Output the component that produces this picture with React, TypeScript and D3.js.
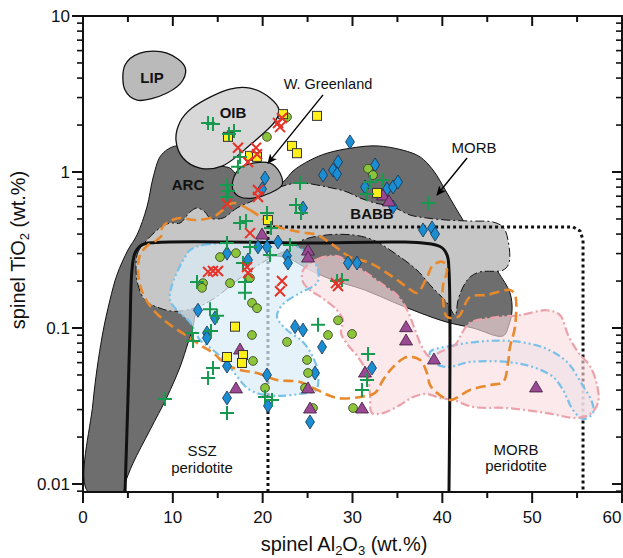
import React from 'react';
import * as d3 from 'd3';

type P = [number, number];

const W = 623;
const H = 558;
const X0 = 83, X1 = 622, Y0 = 16, Y1 = 492;

const xDomain: [number, number] = [0, 60];
const yDomain: [number, number] = [0.00889, 10];
const xMajorTicks = [0, 10, 20, 30, 40, 50, 60];
const xMinorTicks = [5, 15, 25, 35, 45, 55];
const yMajorTicks = [0.01, 0.1, 1, 10];
const yTickLabels = ['0.01', '0.1', '1', '10'];

// ---- fields (Al2O3 wt.%, TiO2 wt.%) ----
const arcMorbField: P[] = [
  [0.56, 0.0089], [1.11, 0.0331], [2.12, 0.0876], [3.0, 0.151], [3.78, 0.219], [5.0, 0.316],
  [6.01, 0.395], [7.12, 0.597], [7.79, 0.915], [8.57, 1.25], [9.46, 1.40], [10.46, 1.47],
  [11.91, 1.38], [14.69, 1.11], [16.36, 1.06], [17.14, 0.956], [19.7, 0.767], [22.26, 0.863],
  [23.38, 1.015], [25.27, 1.19], [27.16, 1.32], [30.06, 1.43], [32.73, 1.47], [35.62, 1.38],
  [37.52, 1.25], [38.96, 1.03], [40.52, 0.734], [42.3, 0.492], [44.19, 0.341], [46.2, 0.229],
  [47.53, 0.168], [47.76, 0.13], [47.42, 0.105], [46.76, 0.0889], [43.42, 0.1], [40.52, 0.109],
  [37.52, 0.125], [34.73, 0.145], [31.39, 0.175], [27.83, 0.203], [25.27, 0.235], [22.71, 0.281],
  [20.82, 0.289], [18.59, 0.265], [15.81, 0.203], [13.58, 0.151], [12.58, 0.125], [12.25, 0.102],
  [11.69, 0.0802], [10.8, 0.0562], [9.35, 0.0361], [7.46, 0.0222], [5.57, 0.0136], [4.68, 0.0101],
  [4.45, 0.0089],
];

const babbField: P[] = [
  [5.9, 0.242], [6.12, 0.307], [7.12, 0.367], [8.57, 0.438], [9.68, 0.471], [10.8, 0.471],
  [11.91, 0.554], [12.69, 0.588], [13.58, 0.554], [14.14, 0.507], [15.58, 0.507], [17.14, 0.588],
  [18.59, 0.642], [19.7, 0.692], [21.93, 0.802], [24.16, 0.85], [27.16, 0.802], [29.39, 0.745],
  [30.84, 0.681], [32.51, 0.633], [34.51, 0.597], [36.4, 0.53], [38.29, 0.507], [40.52, 0.492],
  [43.08, 0.485], [45.64, 0.478], [46.76, 0.444], [47.31, 0.367], [47.42, 0.261], [46.76, 0.235],
  [44.19, 0.229], [43.08, 0.212], [42.3, 0.183], [41.75, 0.151], [41.41, 0.121], [40.52, 0.145],
  [38.63, 0.189], [37.18, 0.235], [34.51, 0.307], [32.28, 0.367], [30.06, 0.395], [27.16, 0.395],
  [24.49, 0.367], [22.71, 0.316], [20.82, 0.281], [17.48, 0.209], [14.69, 0.156], [12.69, 0.136],
  [10.24, 0.128], [8.57, 0.134], [6.9, 0.151], [6.12, 0.189],
];

const lipField: P[] = [
  [4.68, 4.85], [6.35, 5.79], [9.35, 5.79], [11.35, 4.71], [11.13, 3.89], [9.35, 3.21], [6.01, 2.89], [4.68, 3.35],
];

const oibField: P[] = [
  [10.35, 1.6], [10.8, 2.09], [12.13, 2.57], [16.36, 3.4], [18.59, 3.45], [20.82, 2.98], [21.82, 2.5],
  [21.48, 2.15], [18.59, 1.49], [15.47, 1.09], [13.02, 1.06], [11.13, 1.23],
];

const greenlandField: P[] = [
  [16.7, 0.888], [17.48, 1.06], [18.92, 1.14], [20.82, 1.14], [21.93, 0.985], [22.15, 0.826],
  [20.82, 0.734], [18.92, 0.681], [17.48, 0.692], [16.7, 0.767],
];

const blueFieldA: P[] = [
  [11.91, 0.316], [13.36, 0.341], [16.03, 0.351], [18.92, 0.356], [21.37, 0.361], [23.38, 0.341],
  [25.27, 0.29], [26.16, 0.235], [26.05, 0.194], [24.16, 0.168], [22.15, 0.14], [21.6, 0.118],
  [22.71, 0.0971], [24.38, 0.0826], [25.49, 0.0671], [26.16, 0.0515], [25.94, 0.0401], [24.16, 0.0378],
  [21.6, 0.0367], [19.7, 0.0378], [18.26, 0.0413], [17.03, 0.05], [15.92, 0.0606], [14.47, 0.0723],
  [13.02, 0.0838], [11.91, 0.109], [10.46, 0.13], [9.68, 0.151], [9.91, 0.189], [10.58, 0.235], [11.35, 0.285],
];

const blueFieldB: P[] = [
  [38.63, 0.0702], [40.86, 0.0767], [44.97, 0.0826], [48.65, 0.0814], [51.65, 0.0733], [53.88, 0.0606],
  [55.66, 0.0425], [56.66, 0.0336], [56.77, 0.0285], [55.66, 0.0261], [54.55, 0.0298], [53.43, 0.0401],
  [52.32, 0.0486], [50.09, 0.0562], [47.2, 0.0606], [43.08, 0.0606], [40.52, 0.0562], [38.96, 0.0606],
];

const pinkField: P[] = [
  [24.49, 0.235], [26.16, 0.277], [28.05, 0.29], [29.72, 0.265], [31.39, 0.229], [33.4, 0.189],
  [35.07, 0.16], [36.18, 0.127], [36.96, 0.0971], [37.74, 0.0755], [38.63, 0.0652], [39.74, 0.0702],
  [41.41, 0.0778], [42.19, 0.093], [43.08, 0.108], [46.42, 0.118], [48.65, 0.121], [51.65, 0.13],
  [53.1, 0.121], [53.99, 0.0902], [55.1, 0.0702], [56.44, 0.057], [57.22, 0.0431], [57.33, 0.0331],
  [56.44, 0.0281], [54.99, 0.0265], [51.65, 0.0285], [47.2, 0.0307], [43.42, 0.0312], [41.19, 0.0346],
  [39.74, 0.0356], [38.29, 0.0378], [36.74, 0.0361], [35.29, 0.0321], [33.4, 0.0285], [32.17, 0.0285],
  [31.95, 0.0372], [31.62, 0.0515], [30.61, 0.0652], [29.5, 0.0778], [28.72, 0.093], [28.94, 0.112],
  [28.28, 0.13], [26.61, 0.156], [25.27, 0.175], [24.49, 0.197],
];

const orangeField: P[] = [
  [16.7, 0.633], [18.59, 0.571], [21.15, 0.457], [24.16, 0.412], [26.05, 0.395], [27.83, 0.341],
  [29.72, 0.285], [31.95, 0.261], [34.51, 0.212], [36.07, 0.183], [37.18, 0.168], [38.29, 0.212],
  [38.96, 0.253], [40.08, 0.265], [40.52, 0.235], [40.08, 0.189], [40.08, 0.151], [40.52, 0.118],
  [41.75, 0.118], [43.08, 0.158], [44.97, 0.163], [47.53, 0.175], [48.09, 0.163], [48.09, 0.102],
  [47.53, 0.0755], [47.31, 0.0597], [46.76, 0.0451], [45.31, 0.0431], [43.08, 0.0401], [40.86, 0.0346],
  [39.41, 0.0384], [38.63, 0.0431], [38.29, 0.0515], [37.52, 0.0624], [36.07, 0.0652], [34.51, 0.0562],
  [33.4, 0.0464], [32.51, 0.0384], [30.84, 0.0361], [28.28, 0.0356], [26.05, 0.0401], [24.16, 0.0451],
  [21.6, 0.0464], [19.37, 0.0515], [17.48, 0.0538], [16.03, 0.0579], [14.47, 0.0692], [13.02, 0.0778],
  [11.91, 0.0864], [9.68, 0.105], [8.02, 0.127], [6.9, 0.156], [6.35, 0.189], [6.12, 0.242],
  [6.35, 0.294], [7.12, 0.336], [8.24, 0.367], [8.79, 0.395], [8.79, 0.438], [9.46, 0.478],
  [10.8, 0.507], [12.47, 0.492], [14.47, 0.515], [15.58, 0.571],
];

const sszBoundary: P[] = [
  [4.68, 0.0089], [5.0, 0.0346], [5.23, 0.0971], [5.45, 0.235], [5.79, 0.302], [6.57, 0.341],
  [8.02, 0.353], [24.16, 0.351], [39.74, 0.333], [40.52, 0.294], [40.74, 0.235], [40.74, 0.0089],
];

const morbPeridotiteBoundary: P[] = [
  [20.59, 0.0089], [20.59, 0.444], [54.55, 0.444], [55.33, 0.419], [55.66, 0.367], [55.66, 0.0089],
];

// ---- data points (Al2O3, TiO2) ----
const greenCross: P[] = [
  [13.92, 2.06], [14.47, 2.03], [16.25, 1.75], [16.81, 1.83], [17.48, 1.25], [17.25, 1.08],
  [16.03, 0.826], [16.14, 0.756], [16.03, 0.692], [24.16, 0.85], [23.71, 0.614], [24.27, 0.546],
  [20.48, 0.546], [17.48, 0.471], [18.15, 0.485], [20.93, 0.438], [23.04, 0.341], [20.82, 0.294],
  [18.59, 0.331], [33.4, 0.888], [31.95, 0.863], [31.62, 0.723], [38.41, 0.633], [16.03, 0.351],
  [17.81, 0.261], [18.03, 0.197], [18.03, 0.168], [12.69, 0.197], [14.14, 0.132], [14.92, 0.12],
  [12.13, 0.093], [12.25, 0.0826], [14.25, 0.0957], [14.47, 0.0554], [13.92, 0.0478], [9.13, 0.0351],
  [16.03, 0.0285], [20.26, 0.0361], [21.04, 0.0346], [26.16, 0.105], [31.73, 0.0681], [31.62, 0.0464],
  [31.06, 0.0401], [28.28, 0.2], [28.83, 0.203],
];

const redX: P[] = [
  [17.25, 1.43], [19.26, 1.43], [19.37, 1.3], [18.37, 1.16], [21.71, 2.06], [22.15, 2.22], [21.93, 1.94],
  [19.48, 0.767], [19.48, 0.692], [16.03, 0.624], [18.59, 0.406], [13.92, 0.229], [14.47, 0.232],
  [15.03, 0.232], [18.26, 0.246], [18.37, 0.225], [22.15, 0.2], [21.93, 0.172], [28.16, 0.194], [28.39, 0.186],
];

const yellowSquare: P[] = [
  [16.14, 1.68], [18.59, 1.27], [19.37, 1.25], [22.26, 2.35], [23.27, 1.47], [23.82, 1.32], [26.05, 2.29],
  [20.59, 0.492], [32.73, 0.734], [16.92, 0.102], [16.03, 0.0652], [17.81, 0.0671], [17.7, 0.0597],
];

const greenCircle: P[] = [
  [22.71, 2.25], [20.48, 1.68], [15.25, 0.285], [17.03, 0.302], [16.36, 0.194], [13.36, 0.194],
  [13.25, 0.181], [18.59, 0.209], [18.81, 0.145], [19.37, 0.134], [18.81, 0.0902], [18.92, 0.0615],
  [22.71, 0.0814], [24.94, 0.0624], [25.05, 0.0515], [20.26, 0.0413], [24.71, 0.0413], [25.6, 0.0307],
  [28.39, 0.112], [27.27, 0.0902], [29.95, 0.0916], [30.06, 0.0307], [31.73, 1.05], [32.28, 0.956],
];

const blueDiamond: P[] = [
  [20.26, 0.915], [19.93, 0.778], [24.49, 0.588], [16.03, 0.302], [18.37, 0.273], [19.48, 0.331],
  [20.48, 0.331], [21.71, 0.356], [22.71, 0.29], [22.82, 0.261], [12.8, 0.13], [14.69, 0.116],
  [13.8, 0.093], [13.8, 0.0864], [16.03, 0.057], [16.03, 0.0356], [20.48, 0.05], [20.59, 0.0317],
  [23.6, 0.102], [24.49, 0.0971], [26.61, 0.0755], [25.83, 0.0515], [25.27, 0.025], [32.17, 0.0554],
  [29.72, 1.56], [28.39, 1.16], [27.83, 1.03], [28.28, 0.971], [26.72, 0.956], [32.51, 1.11],
  [31.39, 0.802], [33.84, 0.778], [34.51, 0.802], [35.07, 0.863], [34.51, 0.597], [37.85, 0.425],
  [38.85, 0.438], [39.19, 0.4], [29.5, 0.261], [30.5, 0.261],
];

const purpleTriangle: P[] = [
  [19.93, 0.4], [25.05, 0.316], [25.05, 0.285], [33.4, 0.712], [34.06, 0.652], [17.48, 0.0733],
  [17.03, 0.0413], [25.05, 0.0413], [25.27, 0.0307], [31.39, 0.0522], [31.06, 0.0307], [35.96, 0.102],
  [35.96, 0.0838], [39.07, 0.0633], [50.43, 0.0419],
];

// ---- annotations ----
const fieldLabels: { text: string; at: P }[] = [
  { text: 'LIP', at: [7.68, 4.06] },
  { text: 'OIB', at: [16.7, 2.39] },
  { text: 'ARC', at: [11.69, 0.826] },
  { text: 'BABB', at: [32.17, 0.546] },
];
const greenlandLabel: P = [27.27, 3.67];
const greenlandArrow: P[] = [[26.72, 3.12], [20.59, 1.14]];
const morbLabel: P = [43.53, 1.43];
const morbArrow: P[] = [[42.75, 1.23], [39.41, 0.712]];
const sszLabel: P[] = [[13.25, 0.0163], [13.25, 0.0128]];
const morbPerLabel: P[] = [[48.2, 0.0167], [48.2, 0.0131]];

const FONT = "'Liberation Sans', Arial, Helvetica, sans-serif";

export default function App() {
  const x = d3.scaleLinear().domain(xDomain).range([X0, X1]);
  const y = d3.scaleLog().domain(yDomain).range([Y1, Y0]);

  const closed = d3.line<P>().x(d => x(d[0])).y(d => y(d[1])).curve(d3.curveCatmullRomClosed.alpha(0.5));
  const open = d3.line<P>().x(d => x(d[0])).y(d => y(d[1])).curve(d3.curveCatmullRom.alpha(0.5));
  const straight = d3.line<P>().x(d => x(d[0])).y(d => y(d[1]));

  const yMinor: number[] = [];
  for (let dec = -3; dec <= 0; dec++) {
    for (let k = 2; k <= 9; k++) {
      const v = k * Math.pow(10, dec);
      if (v >= yDomain[0] && v <= yDomain[1]) yMinor.push(v);
    }
  }

  const sz = 17;

  return (
    <svg width={W} height={H} style={{ position: 'absolute', left: 0, top: 0, background: '#fff' }} fontFamily={FONT}>
      <defs>
        <clipPath id="plotClip">
          <rect x={X0} y={Y0} width={X1 - X0} height={Y1 - Y0} />
        </clipPath>
        <marker id="arrowHead" viewBox="0 0 10 10" refX="9" refY="5" markerWidth="7" markerHeight="7" orient="auto" markerUnits="strokeWidth">
          <path d="M0,0.5 L10,5 L0,9.5 L2.5,5 Z" fill="#000" />
        </marker>
      </defs>

      <g clipPath="url(#plotClip)">
        <path d={closed(arcMorbField) || ''} fill="#6e6e6e" stroke="#111" strokeWidth={1} />
        <path d={closed(babbField) || ''} fill="#c6c6c6" stroke="#111" strokeWidth={1} strokeDasharray="9,3,2,3" />
        <path d={closed(oibField) || ''} fill="#d8d8d8" stroke="#111" strokeWidth={1.3} />
        <path d={closed(lipField) || ''} fill="#bababa" stroke="#111" strokeWidth={1.3} />
        <path d={closed(greenlandField) || ''} fill="#a6a6a6" stroke="#111" strokeWidth={1.2} />

        <path d={straight(morbPeridotiteBoundary) || ''} fill="none" stroke="#111" strokeWidth={3} strokeDasharray="3,3" />

        <path d={closed(blueFieldA) || ''} fill="#dcedf7" fillOpacity={0.72} stroke="none" />
        <path d={closed(blueFieldB) || ''} fill="#dcedf7" fillOpacity={0.72} stroke="none" />
        <path d={closed(pinkField) || ''} fill="#f9dcdf" fillOpacity={0.62} stroke="none" />
        <path d={closed(blueFieldA) || ''} fill="none" stroke="#79c1e8" strokeWidth={2.2} strokeDasharray="8,3,2,3,2,3" />
        <path d={closed(blueFieldB) || ''} fill="none" stroke="#79c1e8" strokeWidth={2.2} strokeDasharray="8,3,2,3,2,3" />
        <path d={closed(pinkField) || ''} fill="none" stroke="#eca2aa" strokeWidth={2.2} strokeDasharray="9,3,2,3" />

        <path d={open(sszBoundary) || ''} fill="none" stroke="#111" strokeWidth={3} />

        <path d={closed(orangeField) || ''} fill="none" stroke="#e8892b" strokeWidth={2.6} strokeDasharray="10,5" />

        {blueDiamond.map((d, i) => {
          const cx = x(d[0]), cy = y(d[1]);
          return <path key={'bd' + i} d={`M${cx},${cy - 7}L${cx + 4.5},${cy}L${cx},${cy + 7}L${cx - 4.5},${cy}Z`} fill="#1b8dd3" stroke="#14324d" strokeWidth={0.8} />;
        })}
        {greenCircle.map((d, i) => (
          <circle key={'gc' + i} cx={x(d[0])} cy={y(d[1])} r={4.4} fill="#8cc43c" stroke="#2d3a1a" strokeWidth={0.8} />
        ))}
        {purpleTriangle.map((d, i) => {
          const cx = x(d[0]), cy = y(d[1]);
          return <path key={'pt' + i} d={`M${cx},${cy - 6}L${cx + 6.5},${cy + 5}L${cx - 6.5},${cy + 5}Z`} fill="#9a4a93" stroke="#3a1a38" strokeWidth={0.8} />;
        })}
        {yellowSquare.map((d, i) => (
          <rect key={'ys' + i} x={x(d[0]) - 4.5} y={y(d[1]) - 4.5} width={9} height={9} fill="#fff01a" stroke="#333" strokeWidth={1} />
        ))}
        {greenCross.map((d, i) => {
          const cx = x(d[0]), cy = y(d[1]);
          return <path key={'gx' + i} d={`M${cx - 7},${cy}H${cx + 7}M${cx},${cy - 7}V${cy + 7}`} stroke="#179a50" strokeWidth={2} fill="none" />;
        })}
        {redX.map((d, i) => {
          const cx = x(d[0]), cy = y(d[1]);
          return <path key={'rx' + i} d={`M${cx - 5},${cy - 5}L${cx + 5},${cy + 5}M${cx - 5},${cy + 5}L${cx + 5},${cy - 5}`} stroke="#e5332a" strokeWidth={2} fill="none" />;
        })}

        {fieldLabels.map((l, i) => (
          <text key={'fl' + i} x={x(l.at[0])} y={y(l.at[1])} textAnchor="middle" dominantBaseline="central" fontSize={15} fontWeight="bold" fill="#111">{l.text}</text>
        ))}
        <line x1={x(greenlandArrow[0][0])} y1={y(greenlandArrow[0][1])} x2={x(greenlandArrow[1][0])} y2={y(greenlandArrow[1][1])} stroke="#000" strokeWidth={1.4} markerEnd="url(#arrowHead)" />
        <text x={x(greenlandLabel[0])} y={y(greenlandLabel[1])} textAnchor="middle" dominantBaseline="central" fontSize={14.5} fill="#111">W. Greenland</text>
        <line x1={x(morbArrow[0][0])} y1={y(morbArrow[0][1])} x2={x(morbArrow[1][0])} y2={y(morbArrow[1][1])} stroke="#000" strokeWidth={1.4} markerEnd="url(#arrowHead)" />
        <text x={x(morbLabel[0])} y={y(morbLabel[1])} textAnchor="middle" dominantBaseline="central" fontSize={15} fill="#111">MORB</text>
        <text x={x(sszLabel[0][0])} y={y(sszLabel[0][1])} textAnchor="middle" dominantBaseline="central" fontSize={15} fill="#111">SSZ</text>
        <text x={x(sszLabel[1][0])} y={y(sszLabel[1][1])} textAnchor="middle" dominantBaseline="central" fontSize={15} fill="#111">peridotite</text>
        <text x={x(morbPerLabel[0][0])} y={y(morbPerLabel[0][1])} textAnchor="middle" dominantBaseline="central" fontSize={15} fill="#111">MORB</text>
        <text x={x(morbPerLabel[1][0])} y={y(morbPerLabel[1][1])} textAnchor="middle" dominantBaseline="central" fontSize={15} fill="#111">peridotite</text>
      </g>

      {/* frame */}
      <rect x={X0} y={Y0} width={X1 - X0} height={Y1 - Y0} fill="none" stroke="#111" strokeWidth={2} />

      {/* x ticks */}
      {xMajorTicks.map(t => (
        <g key={'xt' + t}>
          <line x1={x(t)} x2={x(t)} y1={Y1} y2={Y1 + 11} stroke="#111" strokeWidth={2} />
          <line x1={x(t)} x2={x(t)} y1={Y0} y2={Y0 + 10} stroke="#111" strokeWidth={2} />
          <text x={Math.min(x(t), W - 11)} y={523} textAnchor="middle" fontSize={sz} fill="#111">{t}</text>
        </g>
      ))}
      {xMinorTicks.map(t => (
        <g key={'xm' + t}>
          <line x1={x(t)} x2={x(t)} y1={Y1} y2={Y1 + 6} stroke="#111" strokeWidth={2} />
          <line x1={x(t)} x2={x(t)} y1={Y0} y2={Y0 + 6} stroke="#111" strokeWidth={2} />
        </g>
      ))}

      {/* y ticks */}
      {yMajorTicks.map((t, i) => (
        <g key={'yt' + t}>
          <line x1={X0 - 11} x2={X0} y1={y(t)} y2={y(t)} stroke="#111" strokeWidth={2} />
          <line x1={X1 - 10} x2={X1} y1={y(t)} y2={y(t)} stroke="#111" strokeWidth={2} />
          <text x={70} y={y(t)} textAnchor="end" dominantBaseline="central" fontSize={sz} fill="#111">{yTickLabels[i]}</text>
        </g>
      ))}
      {yMinor.map(t => (
        <g key={'ym' + t}>
          <line x1={X0 - 6} x2={X0} y1={y(t)} y2={y(t)} stroke="#111" strokeWidth={1.6} />
          <line x1={X1 - 6} x2={X1} y1={y(t)} y2={y(t)} stroke="#111" strokeWidth={1.6} />
        </g>
      ))}

      {/* axis titles */}
      <text x={344} y={551} textAnchor="middle" fontSize={20} fill="#111">
        spinel Al<tspan fontSize={13} dy={4}>2</tspan><tspan dy={-4}>O</tspan><tspan fontSize={13} dy={4}>3</tspan><tspan dy={-4}> (wt.%)</tspan>
      </text>
      <text transform={`translate(25,250) rotate(-90)`} textAnchor="middle" fontSize={20} fill="#111">
        spinel TiO<tspan fontSize={13} dy={4}>2</tspan><tspan dy={-4}> (wt.%)</tspan>
      </text>
    </svg>
  );
}
